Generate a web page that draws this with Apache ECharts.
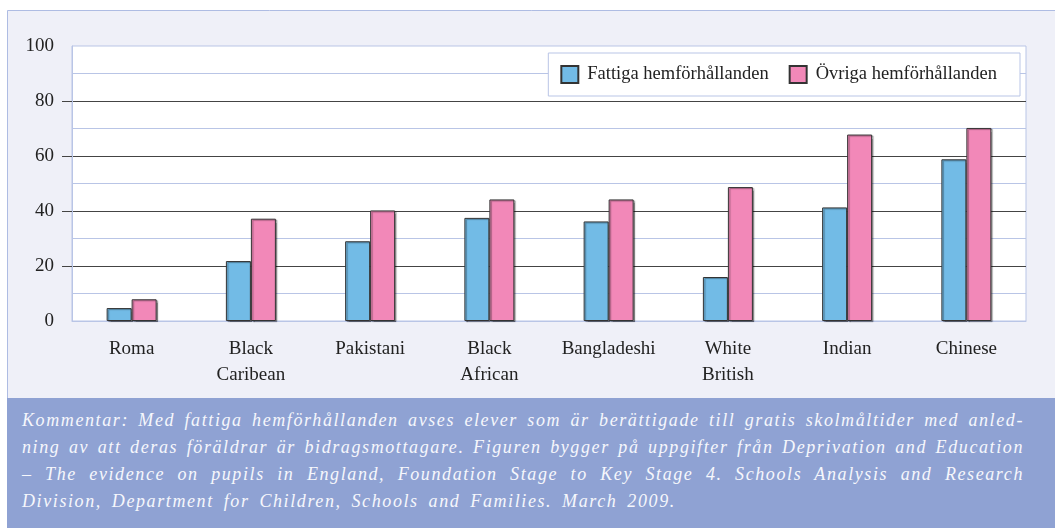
<!DOCTYPE html>
<html>
<head>
<meta charset="utf-8">
<script src="https://cdn.jsdelivr.net/npm/echarts@6/dist/echarts.min.js"></script>
<style>
  body { margin: 0; background: #fff; }
  #wrap { position: relative; width: 1055px; height: 528px; overflow: hidden; }
  #chart { position: absolute; left: 0; top: 0; width: 1055px; height: 528px; }
  #note {
    position: absolute; left: 7px; top: 398px; width: 1048px; height: 130px;
    box-sizing: border-box; padding: 9px 31px 0 15px;
    background: #8fa2d3; color: #f6f7fc;
    font: italic 18px "Liberation Serif", "DejaVu Serif", serif;
    line-height: 27px; letter-spacing: 1.6px;
  }
  #note div { text-align: justify; text-align-last: justify; }
  #note div.last { text-align-last: left; word-spacing: 3.8px; }
</style>
</head>
<body>
<div id="wrap">
  <div id="chart"></div>
  <div id="note">
    <div>Kommentar: Med fattiga hemförhållanden avses elever som är berättigade till gratis skolmåltider med anled-</div>
    <div>ning av att deras föräldrar är bidragsmottagare. Figuren bygger på uppgifter från Deprivation and Education</div>
    <div>– The evidence on pupils in England, Foundation Stage to Key Stage 4. Schools Analysis and Research</div>
    <div class="last">Division, Department for Children, Schools and Families. March 2009.</div>
  </div>
</div>
<script>
// kategorier och värden (andel, %)
const categories = ['Roma', 'Black\nCaribean', 'Pakistani', 'Black\nAfrican', 'Bangladeshi', 'White\nBritish', 'Indian', 'Chinese'];
const fattiga = [4.7, 21.8, 29, 37.5, 36.2, 16, 41.3, 58.8];
const ovriga = [7.9, 37.2, 40.2, 44.2, 44.2, 48.7, 67.8, 70.2];
const majorTicks = [20, 40, 60, 80];

const serif = '"Liberation Serif", "DejaVu Serif", serif';
const light = '#b9c5e6';
const dark = '#444';

const myChart = echarts.init(document.getElementById('chart'));

const barStyle = {
  borderColor: '#333', borderWidth: 1,
  shadowColor: 'rgba(0,0,0,0.35)', shadowOffsetX: 1.5, shadowOffsetY: 1, shadowBlur: 1
};

const option = {
  animation: false,
  textStyle: { fontFamily: serif },
  graphic: [
    {
      type: 'rect',
      z: -10,
      shape: { x: 7.5, y: 10.5, width: 1060, height: 400 },
      style: { fill: '#eff0f8', stroke: '#aebce3', lineWidth: 1 }
    }
  ],
  grid: {
    left: 72, right: 29, top: 46, bottom: 207,
    show: true, backgroundColor: '#fff', borderColor: light, borderWidth: 1
  },
  legend: {
    right: 35, top: 53,
    backgroundColor: '#fff', borderColor: light, borderWidth: 1,
    padding: [12, 23, 12, 12],
    itemWidth: 17, itemHeight: 17, itemGap: 20,
    icon: 'rect',
    textStyle: { fontFamily: serif, fontSize: 18.5, color: '#222', padding: [0, 0, 0, 4] }
  },
  xAxis: {
    type: 'category',
    data: categories,
    axisLine: { lineStyle: { color: light, width: 1 } },
    axisTick: { length: 13, lineStyle: { color: '#666', width: 1.5 } },
    axisLabel: { interval: 0, fontFamily: serif, fontSize: 19, color: '#222', lineHeight: 26, margin: 15 }
  },
  yAxis: [
    {
      // hela tiotal: etiketter, mörka stödlinjer
      type: 'value',
      min: 0, max: 100, interval: 20,
      axisLine: { show: true, lineStyle: { color: light } },
      axisTick: { show: true, customValues: majorTicks, length: 10, lineStyle: { color: dark } },
      axisLabel: { fontFamily: serif, fontSize: 19, color: '#222', margin: 18 },
      splitLine: { lineStyle: { color: dark, width: 1 } }
    },
    {
      // ljusa mellanlinjer vid 10, 30, 50...
      type: 'value',
      min: 0, max: 100, interval: 10,
      axisLine: { show: false },
      axisTick: { show: false },
      axisLabel: { show: false },
      splitLine: { lineStyle: { color: ['rgba(0,0,0,0)', light], width: 1 } }
    }
  ],
  series: [
    {
      name: 'Fattiga hemförhållanden',
      type: 'bar',
      data: fattiga,
      barWidth: 25,
      barGap: '0%',
      itemStyle: Object.assign({ color: '#72bbe6' }, barStyle)
    },
    {
      name: 'Övriga hemförhållanden',
      type: 'bar',
      data: ovriga,
      barWidth: 25,
      itemStyle: Object.assign({ color: '#f288b8' }, barStyle)
    }
  ]
};

myChart.setOption(option);
</script>
</body>
</html>
